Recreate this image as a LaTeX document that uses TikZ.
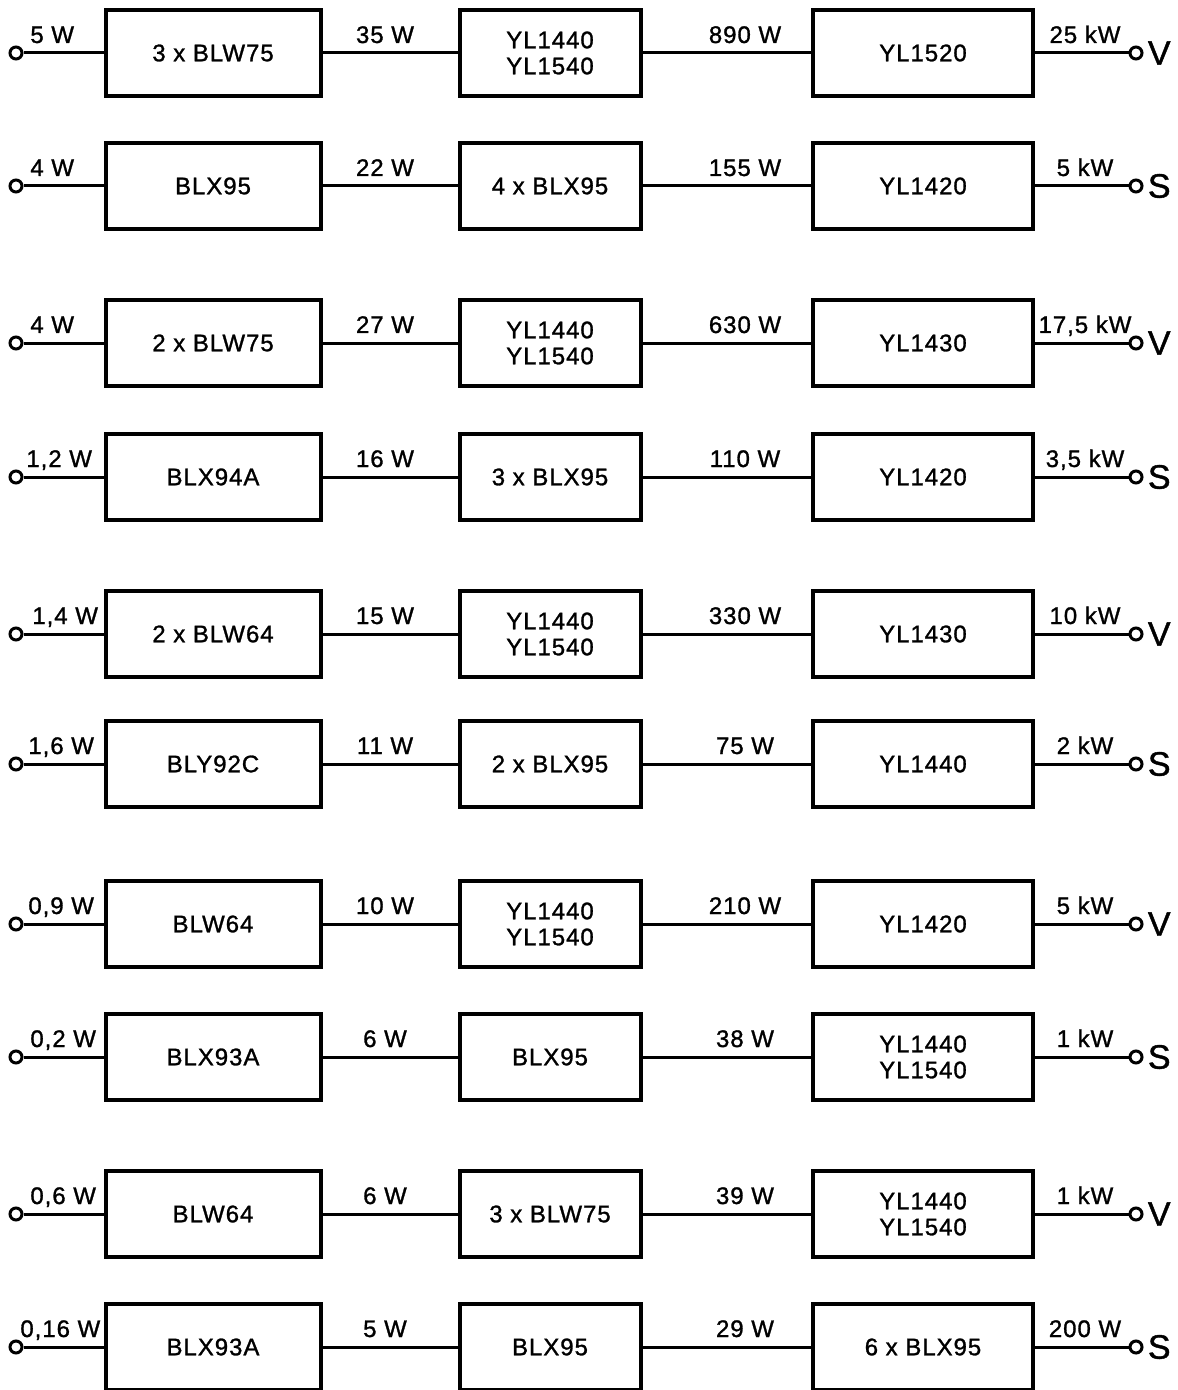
\documentclass[tikz,border=0pt]{standalone}
\usepackage{fontspec}
\setmainfont{Liberation Sans}
\newfontfamily\plate{Liberation Sans}[FakeBold=1.2, LetterSpace=4]
\usetikzlibrary{positioning}

\begin{document}
\begin{tikzpicture}[
    x=0.5pt, y=-0.5pt,
    amp/.style={rectangle, draw, line width=2pt, minimum height=43pt,
                inner sep=0pt, align=center, font=\plate\fontsize{12}{13}\selectfont},
    ampa/.style={amp, minimum width=107.5pt},
    ampb/.style={amp, minimum width=90.5pt},
    ampc/.style={amp, minimum width=110pt},
    term/.style={circle, draw, line width=1.5pt, inner sep=0pt, minimum size=6pt},
    pwr/.style={font=\plate\fontsize{12}{13}\selectfont, inner sep=0pt},
    wire/.style={line width=1.5pt}
  ]
  \useasboundingbox (0,0) rectangle (1177,1390);
  \foreach \y/\px/\pin/\ta/\pa/\tb/\pb/\tc/\pout/\m [count=\i] in {
      53/30/5 W/3 x BLW75/35 W/{YL1440\\YL1540}/890 W/YL1520/25 kW/V,
      186/30/4 W/BLX95/22 W/4 x BLX95/155 W/YL1420/5 kW/S,
      343/30/4 W/2 x BLW75/27 W/{YL1440\\YL1540}/630 W/YL1430/{17,5 kW}/V,
      477/26/{1,2 W}/BLX94A/16 W/3 x BLX95/110 W/YL1420/{3,5 kW}/S,
      634/32/{1,4 W}/2 x BLW64/15 W/{YL1440\\YL1540}/330 W/YL1430/10 kW/V,
      764/28/{1,6 W}/BLY92C/11 W/2 x BLX95/75 W/YL1440/2 kW/S,
      924/28/{0,9 W}/BLW64/10 W/{YL1440\\YL1540}/210 W/YL1420/5 kW/V,
      1057/30/{0,2 W}/BLX93A/6 W/BLX95/38 W/{YL1440\\YL1540}/1 kW/S,
      1214/30/{0,6 W}/BLW64/6 W/3 x BLW75/39 W/{YL1440\\YL1540}/1 kW/V,
      1347/20/{0,16 W}/BLX93A/5 W/BLX95/29 W/6 x BLX95/200 W/S}
  {
    \node[term] (in\i) at (16,\y) {};
    \node[ampa] (a\i) at (213,\y) {\ta};
    \node[ampb] (b\i) at (550,\y) {\tb};
    \node[ampc] (c\i) at (923,\y) {\tc};
    \node[term] (out\i) at (1136,\y) {};
    \node[font=\plate\fontsize{17}{17}\selectfont, inner sep=0pt, right=2pt of out\i] (m\i) {\m};
    \draw[wire] (in\i) -- (a\i);
    \draw[wire] (a\i) -- (b\i);
    \draw[wire] (b\i) -- (c\i);
    \draw[wire] (c\i) -- (out\i);
    % power levels
    \node[pwr, anchor=base west] (p0\i) at (\px,\y-10) {\pin};
    \node[pwr, anchor=base] (p1\i) at (385,\y-10) {\pa};
    \node[pwr, anchor=base] (p2\i) at (745,\y-10) {\pb};
    \node[pwr, anchor=base] (p3\i) at (1085,\y-10) {\pout};
  }
\end{tikzpicture}
\end{document}
